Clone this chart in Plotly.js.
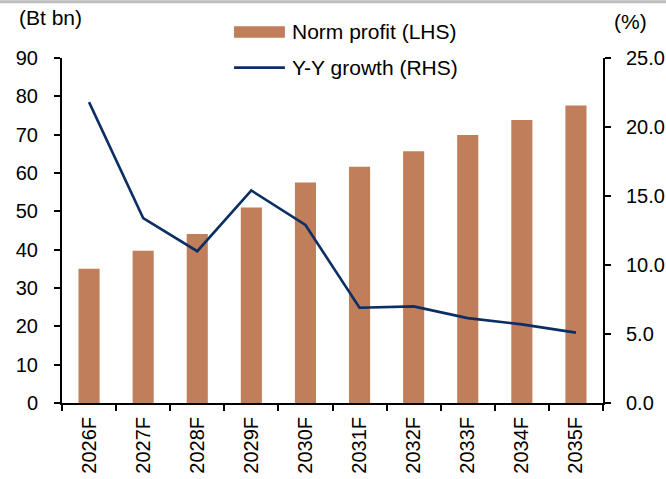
<!DOCTYPE html>
<html>
<head>
<meta charset="utf-8">
<script src="https://cdn.plot.ly/plotly-3.0.1.min.js"></script>
<style>
  html, body { margin: 0; padding: 0; background: #fff; }
  #chart { width: 666px; height: 479px; }
</style>
</head>
<body>
<div id="chart"></div>
<script>
// values
var years = ["2026F", "2027F", "2028F", "2029F", "2030F", "2031F", "2032F", "2033F", "2034F", "2035F"];
var normProfit = [35.0, 39.7, 44.1, 51.0, 57.5, 61.6, 65.7, 69.9, 73.8, 77.6];
var yoyGrowth = [21.8, 13.4, 11.0, 15.4, 12.9, 6.9, 7.0, 6.15, 5.7, 5.1];
var legendNames = ["Norm profit (LHS)", "Y-Y growth (RHS)"];

var barColor = "#C07E5A";
var lineColor = "#0B2E63";
var fontFam = "Liberation Sans, Arial, sans-serif";
var fs = 21;   // legend / unit labels
var tfs = 20;  // tick labels

var traces = [
  {
    x: years,
    y: normProfit,
    type: "bar",
    name: legendNames[0],
    marker: { color: barColor, line: { width: 0 } },
    yaxis: "y",
    hoverinfo: "skip"
  },
  {
    x: years,
    y: yoyGrowth,
    type: "scatter",
    mode: "lines",
    name: legendNames[1],
    line: { color: lineColor, width: 2.6 },
    yaxis: "y2",
    hoverinfo: "skip"
  }
];

var axisCommon = {
  showgrid: false,
  zeroline: false,
  showline: true,
  linecolor: "#000",
  linewidth: 2,
  ticks: "outside",
  ticklen: 6,
  tickwidth: 2,
  tickcolor: "#000",
  tickfont: { family: fontFam, size: tfs, color: "#000" },
  fixedrange: true
};

var layout = {
  width: 666,
  height: 479,
  margin: { l: 62, r: 63, t: 58, b: 76, pad: 0 },
  paper_bgcolor: "#fff",
  plot_bgcolor: "#fff",
  showlegend: false,
  bargap: 0.61,
  font: { family: fontFam, size: fs, color: "#000" },
  xaxis: Object.assign({}, axisCommon, {
    type: "category",
    tickangle: -90,
    tickson: "boundaries",
    ticklabelstandoff: 4
  }),
  yaxis: Object.assign({}, axisCommon, {
    range: [0, 90],
    dtick: 10,
    ticklabelstandoff: 12
  }),
  yaxis2: Object.assign({}, axisCommon, {
    overlaying: "y",
    side: "right",
    range: [0, 25],
    dtick: 5,
    tickformat: ".1f",
    ticklabelstandoff: 11
  }),
  shapes: [
    // grey rule along the top edge
    { type: "line", xref: "paper", yref: "paper", x0: -0.12, x1: 1.13, y0: 1.163, y1: 1.163,
      line: { color: "#BDBDBD", width: 3 } },
    // legend swatches
    { type: "rect", xref: "paper", yref: "paper", x0: 0.318, x1: 0.412, y0: 1.059, y1: 1.092,
      fillcolor: barColor, line: { width: 0 } },
    { type: "line", xref: "paper", yref: "paper", x0: 0.318, x1: 0.412, y0: 0.972, y1: 0.972,
      line: { color: lineColor, width: 2.6 } }
  ],
  annotations: [
    { text: legendNames[0], xref: "paper", yref: "paper", x: 0.421, y: 1.076,
      xanchor: "left", yanchor: "middle", showarrow: false,
      font: { family: fontFam, size: fs, color: "#000" } },
    { text: legendNames[1], xref: "paper", yref: "paper", x: 0.421, y: 0.972,
      xanchor: "left", yanchor: "middle", showarrow: false,
      font: { family: fontFam, size: fs, color: "#000" } },
    { text: "(Bt bn)", xref: "paper", yref: "paper", x: 0.04, y: 1.118,
      xanchor: "right", yanchor: "middle", showarrow: false,
      font: { family: fontFam, size: fs, color: "#000" } },
    { text: "(%)", xref: "paper", yref: "paper", x: 1.05, y: 1.106,
      xanchor: "center", yanchor: "middle", showarrow: false,
      font: { family: fontFam, size: fs, color: "#000" } }
  ]
};

Plotly.newPlot("chart", traces, layout, { displayModeBar: false, staticPlot: true });
</script>
</body>
</html>
